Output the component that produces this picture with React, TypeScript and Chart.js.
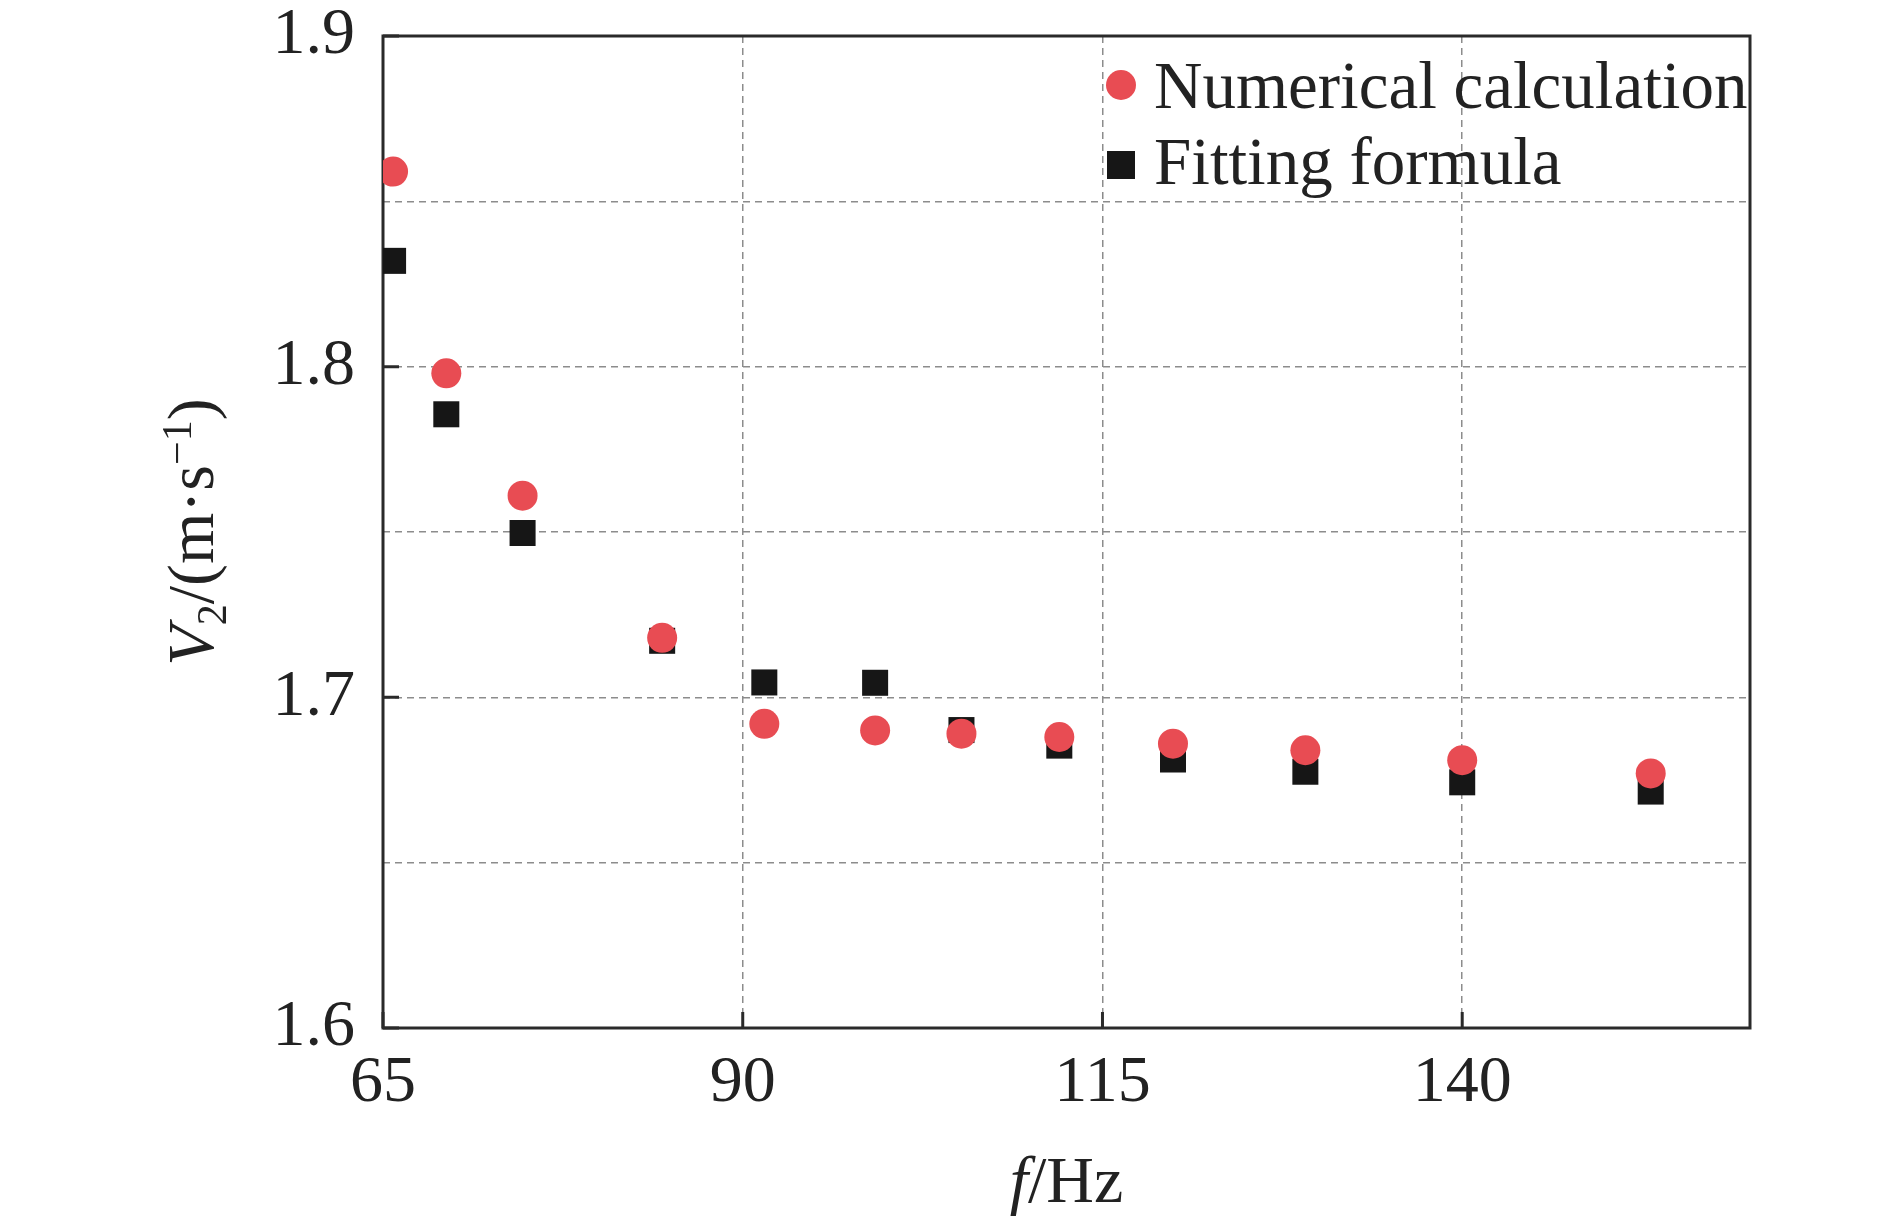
import React, { useEffect, useRef } from 'react';
import { Chart, registerables } from 'chart.js';

Chart.register(...registerables);

// ---- data ----
const frequency = [65.7, 69.4, 74.7, 84.4, 91.5, 99.2, 105.2, 112.0, 119.9, 129.1, 140.0, 153.1];
const numericalCalc = [1.859, 1.798, 1.761, 1.718, 1.692, 1.690, 1.689, 1.688, 1.686, 1.684, 1.681, 1.677];
const fittingFormula = [1.832, 1.7856, 1.7497, 1.7171, 1.7045, 1.7044, 1.6901, 1.6854, 1.6812, 1.6775, 1.6743, 1.6715];
const seriesNames = ['Numerical calculation', 'Fitting formula'];
const xTickValues = [65, 90, 115, 140];
const yGridValues = [1.6, 1.65, 1.7, 1.75, 1.8, 1.85, 1.9];
const yLabelValues = [1.6, 1.7, 1.8, 1.9];
const xRange = [65, 160];
const yRange = [1.6, 1.9];

const FONT = "'Liberation Serif', 'Times New Roman', serif";
const RED = '#E84C53';
const BLACK = '#161616';
const AXIS = '#2a2a2a';

const framePlugin = {
  id: 'frameAndTicks',
  beforeDatasetsDraw(chart: any) {
    const { ctx, chartArea: a, scales } = chart;
    ctx.save();
    ctx.strokeStyle = AXIS;
    ctx.lineWidth = 3;
    ctx.setLineDash([]);
    const tl = 16;
    ctx.beginPath();
    yLabelValues.forEach((v) => {
      const p = scales.y.getPixelForValue(v);
      ctx.moveTo(a.left, p);
      ctx.lineTo(a.left + tl, p);
    });
    xTickValues.forEach((v) => {
      const p = scales.x.getPixelForValue(v);
      ctx.moveTo(p, a.bottom);
      ctx.lineTo(p, a.bottom - tl);
    });
    ctx.stroke();
    ctx.strokeRect(a.left, a.top, a.right - a.left, a.bottom - a.top);
    ctx.restore();
  },
};

const legendPlugin = {
  id: 'insideLegend',
  afterDatasetsDraw(chart: any) {
    const { ctx, chartArea: a } = chart;
    const mx = a.right - 629;
    const tx = a.right - 596;
    const rows = [49, 129];
    const baselines = [72, 148];
    ctx.save();
    chart.data.datasets.forEach((ds: any, i: number) => {
      const cy = a.top + rows[i];
      ctx.fillStyle = ds.backgroundColor;
      if (ds.pointStyle === 'circle') {
        ctx.beginPath();
        ctx.arc(mx, cy, 15, 0, Math.PI * 2);
        ctx.fill();
      } else {
        ctx.fillRect(mx - 14, cy - 14, 28, 28);
      }
      ctx.fillStyle = '#222';
      ctx.font = `67px ${FONT}`;
      ctx.textAlign = 'left';
      ctx.textBaseline = 'alphabetic';
      ctx.fillText(ds.label, tx, a.top + baselines[i]);
    });
    ctx.restore();
  },
};

type Part = { t: string; italic?: boolean; size: number; dy: number };

function drawParts(ctx: CanvasRenderingContext2D, parts: Part[]) {
  let total = 0;
  parts.forEach((p) => {
    ctx.font = `${p.italic ? 'italic ' : ''}${p.size}px ${FONT}`;
    total += ctx.measureText(p.t).width;
  });
  let x = -total / 2;
  parts.forEach((p) => {
    ctx.font = `${p.italic ? 'italic ' : ''}${p.size}px ${FONT}`;
    ctx.fillText(p.t, x, p.dy);
    x += ctx.measureText(p.t).width;
  });
}

const titlePlugin = {
  id: 'axisTitles',
  afterDraw(chart: any) {
    const { ctx, chartArea: a } = chart;
    ctx.save();
    ctx.fillStyle = '#222';
    ctx.textAlign = 'left';
    ctx.textBaseline = 'alphabetic';
    ctx.save();
    ctx.translate((a.left + a.right) / 2, 1202);
    drawParts(ctx, [
      { t: 'f', italic: true, size: 66, dy: 0 },
      { t: '/Hz', size: 66, dy: 0 },
    ]);
    ctx.restore();
    ctx.save();
    ctx.translate(213, (a.top + a.bottom) / 2);
    ctx.rotate(-Math.PI / 2);
    drawParts(ctx, [
      { t: 'V', italic: true, size: 66, dy: 0 },
      { t: '2', size: 42, dy: 13 },
      { t: '/(m·s', size: 66, dy: 0 },
      { t: '−1', size: 42, dy: -22 },
      { t: ')', size: 66, dy: 0 },
    ]);
    ctx.restore();
    ctx.restore();
  },
};

export default function App() {
  const ref = useRef<HTMLCanvasElement | null>(null);

  useEffect(() => {
    if (!ref.current) return;
    const chart = new Chart(ref.current, {
      type: 'scatter',
      data: {
        datasets: [
          {
            label: seriesNames[0],
            data: frequency.map((f, i) => ({ x: f, y: numericalCalc[i] })),
            pointStyle: 'circle',
            pointRadius: 15,
            pointHoverRadius: 15,
            backgroundColor: RED,
            borderWidth: 0,
          },
          {
            label: seriesNames[1],
            data: frequency.map((f, i) => ({ x: f, y: fittingFormula[i] })),
            pointStyle: 'rect',
            pointRadius: 18.4,
            pointHoverRadius: 18.4,
            backgroundColor: BLACK,
            borderWidth: 0,
          },
        ],
      },
      options: {
        responsive: false,
        animation: false,
        devicePixelRatio: 1,
        layout: { padding: { top: 36, right: 140, left: 0, bottom: 0 } },
        plugins: {
          legend: { display: false },
          tooltip: { enabled: false },
        },
        scales: {
          x: {
            type: 'linear',
            min: xRange[0],
            max: xRange[1],
            afterBuildTicks: (scale: any) => {
              scale.ticks = xTickValues.map((v) => ({ value: v }));
            },
            afterFit: (scale: any) => {
              scale.height = 194;
              scale.paddingLeft = 0;
              scale.paddingRight = 0;
              scale.paddingTop = 0;
              scale.paddingBottom = 0;
            },
            grid: {
              color: '#8c8c8c',
              lineWidth: 1.5,
              drawTicks: false,
            },
            border: { display: false, dash: [7, 5] },
            ticks: {
              padding: 16,
              color: '#222',
              font: { family: FONT, size: 66 },
              maxRotation: 0,
              autoSkip: false,
              callback: (v: any) => String(v),
            },
          },
          y: {
            type: 'linear',
            min: yRange[0],
            max: yRange[1],
            afterBuildTicks: (scale: any) => {
              scale.ticks = yGridValues.map((v) => ({ value: v }));
            },
            afterFit: (scale: any) => {
              scale.width = 383;
              scale.paddingLeft = 0;
              scale.paddingRight = 0;
              scale.paddingTop = 0;
              scale.paddingBottom = 0;
            },
            grid: {
              color: '#8c8c8c',
              lineWidth: 1.5,
              drawTicks: false,
            },
            border: { display: false, dash: [7, 5] },
            ticks: {
              padding: 28,
              color: '#222',
              font: { family: FONT, size: 66 },
              autoSkip: false,
              callback: (v: any) => {
                const n = Number(v);
                return yLabelValues.some((l) => Math.abs(l - n) < 1e-6) ? n.toFixed(1) : '';
              },
            },
          },
        },
      },
      plugins: [framePlugin, legendPlugin, titlePlugin],
    } as any);
    return () => chart.destroy();
  }, []);

  return (
    <canvas
      ref={ref}
      width={1890}
      height={1222}
      style={{ display: 'block', position: 'fixed', left: 0, top: 0, background: '#fff' }}
    />
  );
}
